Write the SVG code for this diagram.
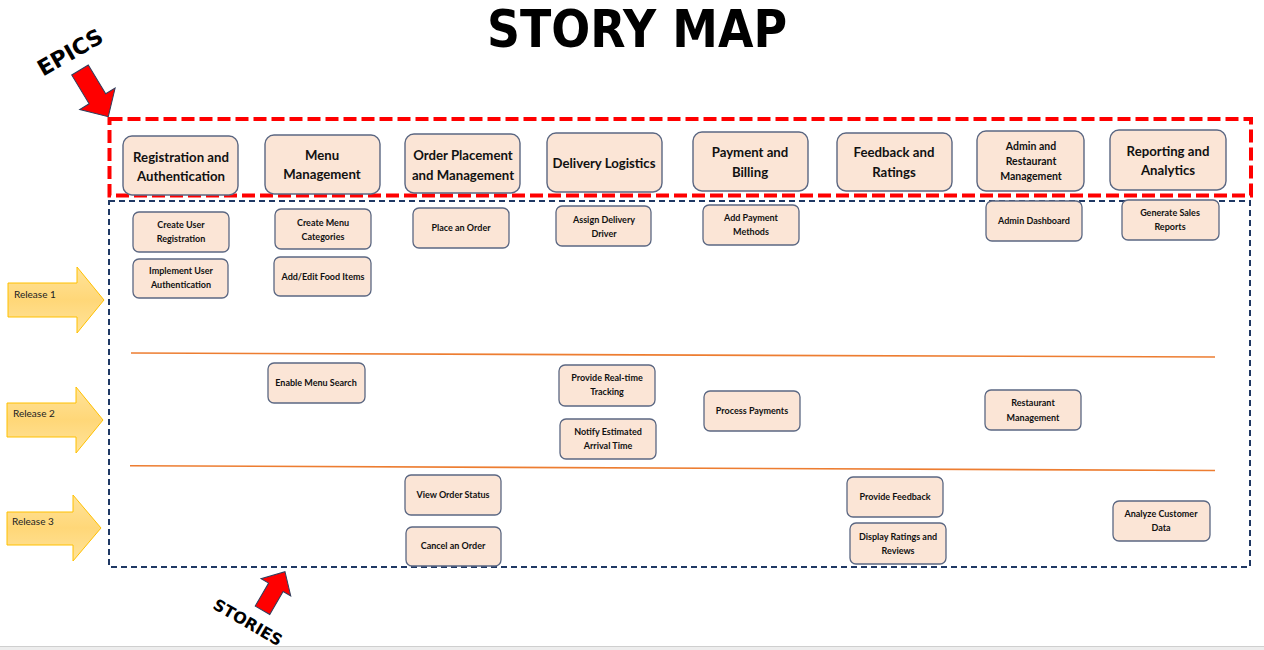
<svg xmlns="http://www.w3.org/2000/svg" width="1264" height="650" viewBox="0 0 1264 650">
<defs>
<style>
.epic rect{fill:#FBE5D6;stroke:#5B6782;stroke-width:1.4}
.story rect{fill:#FBE5D6;stroke:#5B6782;stroke-width:1.3}
.epic text{font-family:Lato,"Liberation Sans",sans-serif;font-weight:700;font-size:13.2px;fill:#111;text-anchor:middle}
.epic text.sm{font-size:10.5px}
.story text{font-family:Lato,"Liberation Sans",sans-serif;font-weight:700;font-size:9px;fill:#111;text-anchor:middle}
.rel path{fill:url(#gy);stroke:#FFC000;stroke-width:1}
.rel text{font-family:Lato,"Liberation Sans",sans-serif;font-size:10px;fill:#222}
.big{font-family:"DejaVu Sans",Verdana,sans-serif;font-weight:700;fill:#000}
.redarrow{fill:#FF0000;stroke:#2F3E5C;stroke-width:1}
</style>
<linearGradient id="gy" x1="0" y1="0" x2="0" y2="1">
<stop offset="0" stop-color="#FFE39A"/>
<stop offset="0.5" stop-color="#FFD778"/>
<stop offset="1" stop-color="#FFE39A"/>
</linearGradient>
</defs>
<rect width="1264" height="650" fill="#fff"/>
<rect x="0" y="646" width="1264" height="4" fill="#EDEDED"/>
<line x1="0" y1="646.5" x2="1264" y2="646.5" stroke="#CFCFCF" stroke-width="1"/>

<text class="big" x="637" y="47" font-size="52" text-anchor="middle" textLength="300" lengthAdjust="spacingAndGlyphs">STORY MAP</text>
<text class="big" transform="translate(70,52) rotate(-30)" y="8" font-size="22" text-anchor="middle">EPICS</text>
<text class="big" transform="translate(248,622) rotate(30)" y="6" font-size="16" text-anchor="middle">STORIES</text>

<g id="frames">
<rect x="109" y="201" width="1141" height="366" fill="none" stroke="#1F3864" stroke-width="2" stroke-dasharray="6 4"/>
<rect x="109.5" y="119" width="1141.5" height="76.5" fill="none" stroke="#FF0000" stroke-width="4" stroke-dasharray="13 5"/>
</g>

<g id="connectors">
<line x1="131" y1="353" x2="1215" y2="357" stroke="#ED7D31" stroke-width="1.6"/>
<line x1="130" y1="465.7" x2="1215" y2="470.5" stroke="#ED7D31" stroke-width="1.6"/>
<path class="redarrow" transform="translate(80,70) rotate(58.8)" d="M0,-9.7 H33.6 V-20.7 L54.6,0 L33.6,20.7 V9.7 H0 Z"/>
<path class="redarrow" transform="translate(262.5,610.3) rotate(-59.8)" d="M0,-8.4 H26.6 V-17.2 L44.7,0 L26.6,17.2 V8.4 H0 Z"/>
</g>

<g id="release1" class="rel"><path d="M8,283 H77 V267 L104,300 L77,333 V317 H8 Z"/><text x="14" y="298">Release 1</text></g>
<g id="release2" class="rel"><path d="M7,403 H76 V387 L103,420 L76,453 V437 H7 Z"/><text x="13" y="417">Release 2</text></g>
<g id="release3" class="rel"><path d="M7,512 H73 V495 L101,528 L73,561 V545 H7 Z"/><text x="12" y="525">Release 3</text></g>

<g id="epic-registration" class="epic"><rect x="123" y="136" width="115" height="59" rx="9"/><text x="181" y="162">Registration and</text><text x="181" y="181">Authentication</text></g>
<g id="epic-menu" class="epic"><rect x="265" y="135" width="115" height="59" rx="9"/><text x="322" y="160">Menu</text><text x="322" y="179">Management</text></g>
<g id="epic-order" class="epic"><rect x="405" y="134" width="115" height="59" rx="9"/><text x="463" y="160">Order Placement</text><text x="463" y="180">and Management</text></g>
<g id="epic-delivery" class="epic"><rect x="547" y="133" width="115" height="59" rx="9"/><text x="604" y="168">Delivery Logistics</text></g>
<g id="epic-payment" class="epic"><rect x="693" y="132" width="115" height="59" rx="9"/><text x="750" y="157">Payment and</text><text x="750" y="177">Billing</text></g>
<g id="epic-feedback" class="epic"><rect x="837" y="133" width="115" height="58" rx="9"/><text x="894" y="157">Feedback and</text><text x="894" y="177">Ratings</text></g>
<g id="epic-admin" class="epic"><rect x="977" y="131" width="107" height="60" rx="9"/><text class="sm" x="1031" y="150">Admin and</text><text class="sm" x="1031" y="165">Restaurant</text><text class="sm" x="1031" y="180">Management</text></g>
<g id="epic-reporting" class="epic"><rect x="1110" y="130" width="116" height="60" rx="9"/><text x="1168" y="156">Reporting and</text><text x="1168" y="175">Analytics</text></g>

<g id="story-create-user" class="story"><rect x="133" y="212" width="96" height="40" rx="6"/><text x="181" y="228">Create User</text><text x="181" y="242">Registration</text></g>
<g id="story-implement-auth" class="story"><rect x="133" y="259" width="95" height="39" rx="6"/><text x="181" y="274">Implement User</text><text x="181" y="288">Authentication</text></g>
<g id="story-menu-categories" class="story"><rect x="275" y="209" width="96" height="40" rx="6"/><text x="323" y="226">Create Menu</text><text x="323" y="240">Categories</text></g>
<g id="story-food-items" class="story"><rect x="274" y="257" width="97" height="39" rx="6"/><text x="323" y="280">Add/Edit Food Items</text></g>
<g id="story-place-order" class="story"><rect x="413" y="208" width="96" height="40" rx="6"/><text x="461" y="231">Place an Order</text></g>
<g id="story-assign-driver" class="story"><rect x="556" y="206" width="95" height="40" rx="6"/><text x="604" y="223">Assign Delivery</text><text x="604" y="237">Driver</text></g>
<g id="story-payment-methods" class="story"><rect x="703" y="205" width="96" height="40" rx="6"/><text x="751" y="221">Add Payment</text><text x="751" y="235">Methods</text></g>
<g id="story-admin-dashboard" class="story"><rect x="986" y="201" width="96" height="40" rx="6"/><text x="1034" y="224">Admin Dashboard</text></g>
<g id="story-sales-reports" class="story"><rect x="1122" y="200" width="97" height="40" rx="6"/><text x="1170" y="216">Generate Sales</text><text x="1170" y="230">Reports</text></g>
<g id="story-menu-search" class="story"><rect x="268" y="363" width="97" height="40" rx="6"/><text x="316" y="386">Enable Menu Search</text></g>
<g id="story-tracking" class="story"><rect x="559" y="365" width="96" height="41" rx="6"/><text x="607" y="381">Provide Real-time</text><text x="607" y="395">Tracking</text></g>
<g id="story-eta" class="story"><rect x="560" y="419" width="96" height="40" rx="6"/><text x="608" y="435">Notify Estimated</text><text x="608" y="449">Arrival Time</text></g>
<g id="story-process-payments" class="story"><rect x="704" y="391" width="96" height="40" rx="6"/><text x="752" y="414">Process Payments</text></g>
<g id="story-restaurant-mgmt" class="story"><rect x="985" y="390" width="96" height="40" rx="6"/><text x="1033" y="406">Restaurant</text><text x="1033" y="421">Management</text></g>
<g id="story-view-status" class="story"><rect x="405" y="475" width="96" height="40" rx="6"/><text x="453" y="498">View Order Status</text></g>
<g id="story-cancel-order" class="story"><rect x="406" y="527" width="95" height="39" rx="6"/><text x="453" y="549">Cancel an Order</text></g>
<g id="story-feedback" class="story"><rect x="847" y="477" width="96" height="40" rx="6"/><text x="895" y="500">Provide Feedback</text></g>
<g id="story-ratings" class="story"><rect x="850" y="523" width="96" height="41" rx="6"/><text x="898" y="540">Display Ratings and</text><text x="898" y="554">Reviews</text></g>
<g id="story-customer-data" class="story"><rect x="1113" y="501" width="97" height="40" rx="6"/><text x="1161" y="517">Analyze Customer</text><text x="1161" y="531">Data</text></g>
</svg>
